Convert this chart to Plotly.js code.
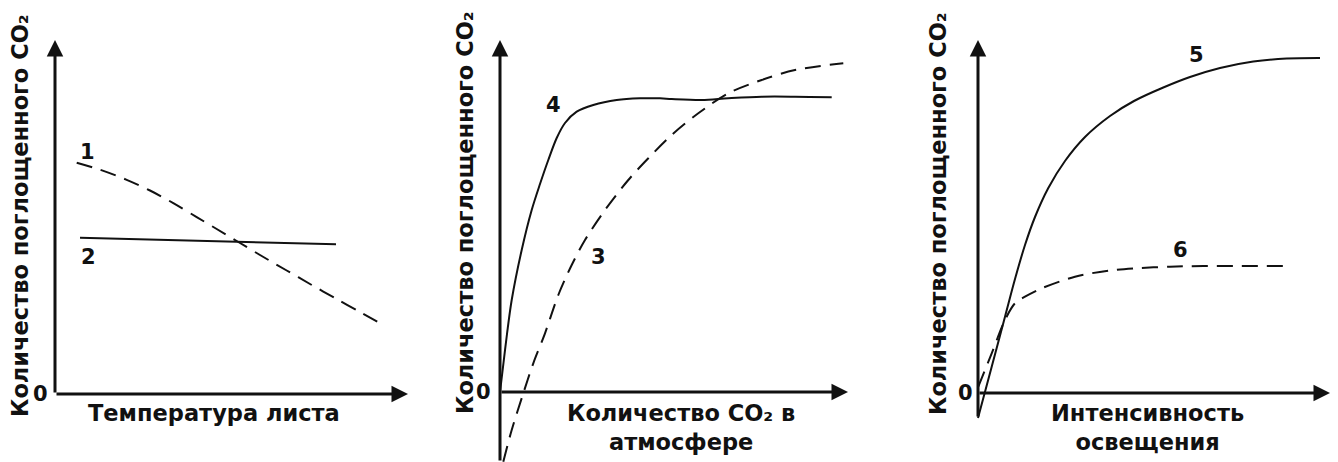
<!DOCTYPE html>
<html>
<head>
<meta charset="utf-8">
<script src="https://cdn.plot.ly/plotly-3.0.1.min.js"></script>
<style>html,body{margin:0;padding:0;background:#fff;}#chart{width:1338px;height:462px;}</style>
</head>
<body>
<div id="chart"></div>
<script>
// Panel 1: leaf temperature
const tempX1 = [2.17, 4.5, 7.17, 9.5, 11.83, 14.17, 16.17, 18.17, 20.5, 23.17, 25.5, 28.17, 30.5, 32.67];
const tempY1 = [23.13, 22.43, 21.42, 20.35, 19.09, 17.69, 16.5, 15.3, 13.9, 12.35, 11.0, 9.5, 8.2, 7.0];
const tempX2 = [2.5, 28.1];
const tempY2 = [15.63, 14.97];

// Panel 2: atmospheric CO2
const co2X4 = [0, 0.3, 0.7, 1.17, 2.17, 3.17, 4.0, 4.83, 5.67, 6.5, 7.67, 9.33, 11.67, 14.0, 16.0, 17.17, 20.17, 22.83, 26.17, 29.5, 33.17];
const co2Y4 = [0, 2.5, 5.8, 9.2, 14.2, 18.2, 20.8, 23.2, 25.4, 26.9, 28.03, 28.7, 29.2, 29.37, 29.37, 29.3, 29.2, 29.37, 29.53, 29.53, 29.47];
const co2X3 = [0.33, 1.17, 2.33, 3.33, 4.5, 5.83, 7.17, 8.5, 10.5, 12.83, 14.83, 17.17, 19.83, 22.83, 26.17, 29.5, 34.33];
const co2Y3 = [-6.97, -3.8, -0.13, 2.87, 5.87, 9.7, 12.7, 15.2, 18.2, 21.2, 23.37, 25.7, 27.87, 29.87, 31.2, 32.2, 32.87];

// Panel 3: light intensity
const lightX5 = [0, 1.37, 2.7, 3.7, 4.7, 5.7, 7.03, 8.7, 10.7, 13.2, 15.6, 18.53, 21.2, 24.2, 27.53, 30.87, 34.2];
const lightY5 = [-2.5, 2.63, 7.63, 11.4, 14.8, 17.6, 20.5, 23.2, 25.6, 27.7, 29.2, 30.55, 31.6, 32.5, 33.15, 33.45, 33.5];
const lightX6 = [0.03, 1.37, 2.7, 3.7, 4.7, 6.37, 9.7, 13.03, 15.7, 19.2, 22.53, 30.7];
const lightY6 = [0.63, 3.97, 7.3, 8.97, 9.63, 10.47, 11.63, 12.23, 12.47, 12.63, 12.7, 12.7];

const curveLabels = ['1', '2', '3', '4', '5', '6'];
const yTitle = 'Количество поглощенного CO₂';
const xTitles = ['Температура листа', 'Количество CO₂ в<br>атмосфере', 'Интенсивность<br>освещения'];
const zeroLabel = '0';

const W = 1338, H = 462;
const FONT = 'DejaVu Sans, Verdana, sans-serif';
const INK = '#111';
const solid = {color: INK, width: 2, shape: 'spline', smoothing: 0.9};
const dashed = {color: INK, width: 2, shape: 'spline', smoothing: 0.9, dash: '16px,9px'};

const traces = [
  {x: tempX1, y: tempY1, mode: 'lines', line: dashed, xaxis: 'x', yaxis: 'y'},
  {x: tempX2, y: tempY2, mode: 'lines', line: solid, xaxis: 'x', yaxis: 'y'},
  {x: co2X4, y: co2Y4, mode: 'lines', line: solid, xaxis: 'x2', yaxis: 'y2'},
  {x: co2X3, y: co2Y3, mode: 'lines', line: dashed, xaxis: 'x2', yaxis: 'y2'},
  {x: lightX5, y: lightY5, mode: 'lines', line: solid, xaxis: 'x3', yaxis: 'y3'},
  {x: lightX6, y: lightY6, mode: 'lines', line: dashed, xaxis: 'x3', yaxis: 'y3'}
];

function ax(domain, range, anchor) {
  return {domain: domain, range: range, anchor: anchor, showgrid: false, zeroline: false,
          showline: false, showticklabels: false, ticks: '', fixedrange: true};
}

function arrow(xr, yr, x, y, tx, ty) {
  return {xref: xr, yref: yr, axref: xr, ayref: yr, x: x, y: y, ax: tx, ay: ty, text: '',
          showarrow: true, arrowhead: 2, arrowsize: 1.1, arrowwidth: 3, arrowcolor: INK, standoff: 0, startstandoff: 0};
}
function ptext(px, py, text, size, angle) {
  return {xref: 'paper', yref: 'paper', x: px / W, y: 1 - py / H, text: text, showarrow: false,
          xanchor: 'center', yanchor: 'middle', textangle: angle || 0,
          font: {family: FONT, size: size, color: INK, weight: 'bold'}};
}
function dtext(xr, yr, x, y, text) {
  return {xref: xr, yref: yr, x: x, y: y, text: text, showarrow: false, xanchor: 'center', yanchor: 'middle',
          font: {family: FONT, size: 21, color: INK, weight: 'bold'}};
}

const annotations = [
  // axes arrows
  arrow('x', 'y', 0, 35.4, 0, 0),
  arrow('x', 'y', 35.3, 0, 0, 0),
  arrow('x2', 'y2', 0, 35.2, 0, -7.0),
  arrow('x2', 'y2', 34.8, 0, 0, 0),
  arrow('x3', 'y3', 0, 35.3, 0, -2.5),
  arrow('x3', 'y3', 35.2, 0, 0, 0),
  // curve numbers
  dtext('x', 'y', 3.23, 24.23, curveLabels[0]),
  dtext('x', 'y', 3.33, 13.73, curveLabels[1]),
  dtext('x2', 'y2', 9.83, 13.53, curveLabels[2]),
  dtext('x2', 'y2', 5.33, 28.7, curveLabels[3]),
  dtext('x3', 'y3', 21.8, 33.8, curveLabels[4]),
  dtext('x3', 'y3', 20.27, 14.3, curveLabels[5]),
  // zeros
  ptext(40, 394, zeroLabel, 21),
  ptext(483, 392, zeroLabel, 21),
  ptext(965, 393, zeroLabel, 21),
  // y titles
  ptext(20, 216, yTitle, 22.5, -90),
  ptext(465, 213, yTitle, 22.5, -90),
  ptext(938, 214, yTitle, 22.5, -90),
  // x titles
  ptext(214, 413, xTitles[0], 22.5),
  ptext(681, 427, xTitles[1], 22.5),
  ptext(1147, 427, xTitles[2], 22.5)
];

const layout = {
  width: W, height: H, margin: {l: 0, r: 0, t: 0, b: 0},
  paper_bgcolor: '#fff', plot_bgcolor: '#fff', showlegend: false,
  xaxis: ax([40 / W, 420 / W], [-1.5, 36.5], 'y'),
  yaxis: ax([0, 1], [-6.8, 39.4], 'x'),
  xaxis2: ax([480 / W, 860 / W], [-2, 36], 'y2'),
  yaxis2: ax([0, 1], [-7.0, 39.2], 'x2'),
  xaxis3: ax([958 / W, 1], [-2, 36], 'y3'),
  yaxis3: ax([0, 1], [-6.9, 39.3], 'x3'),
  annotations: annotations
};

Plotly.newPlot('chart', traces, layout, {displayModeBar: false, staticPlot: true});
</script>
</body>
</html>
